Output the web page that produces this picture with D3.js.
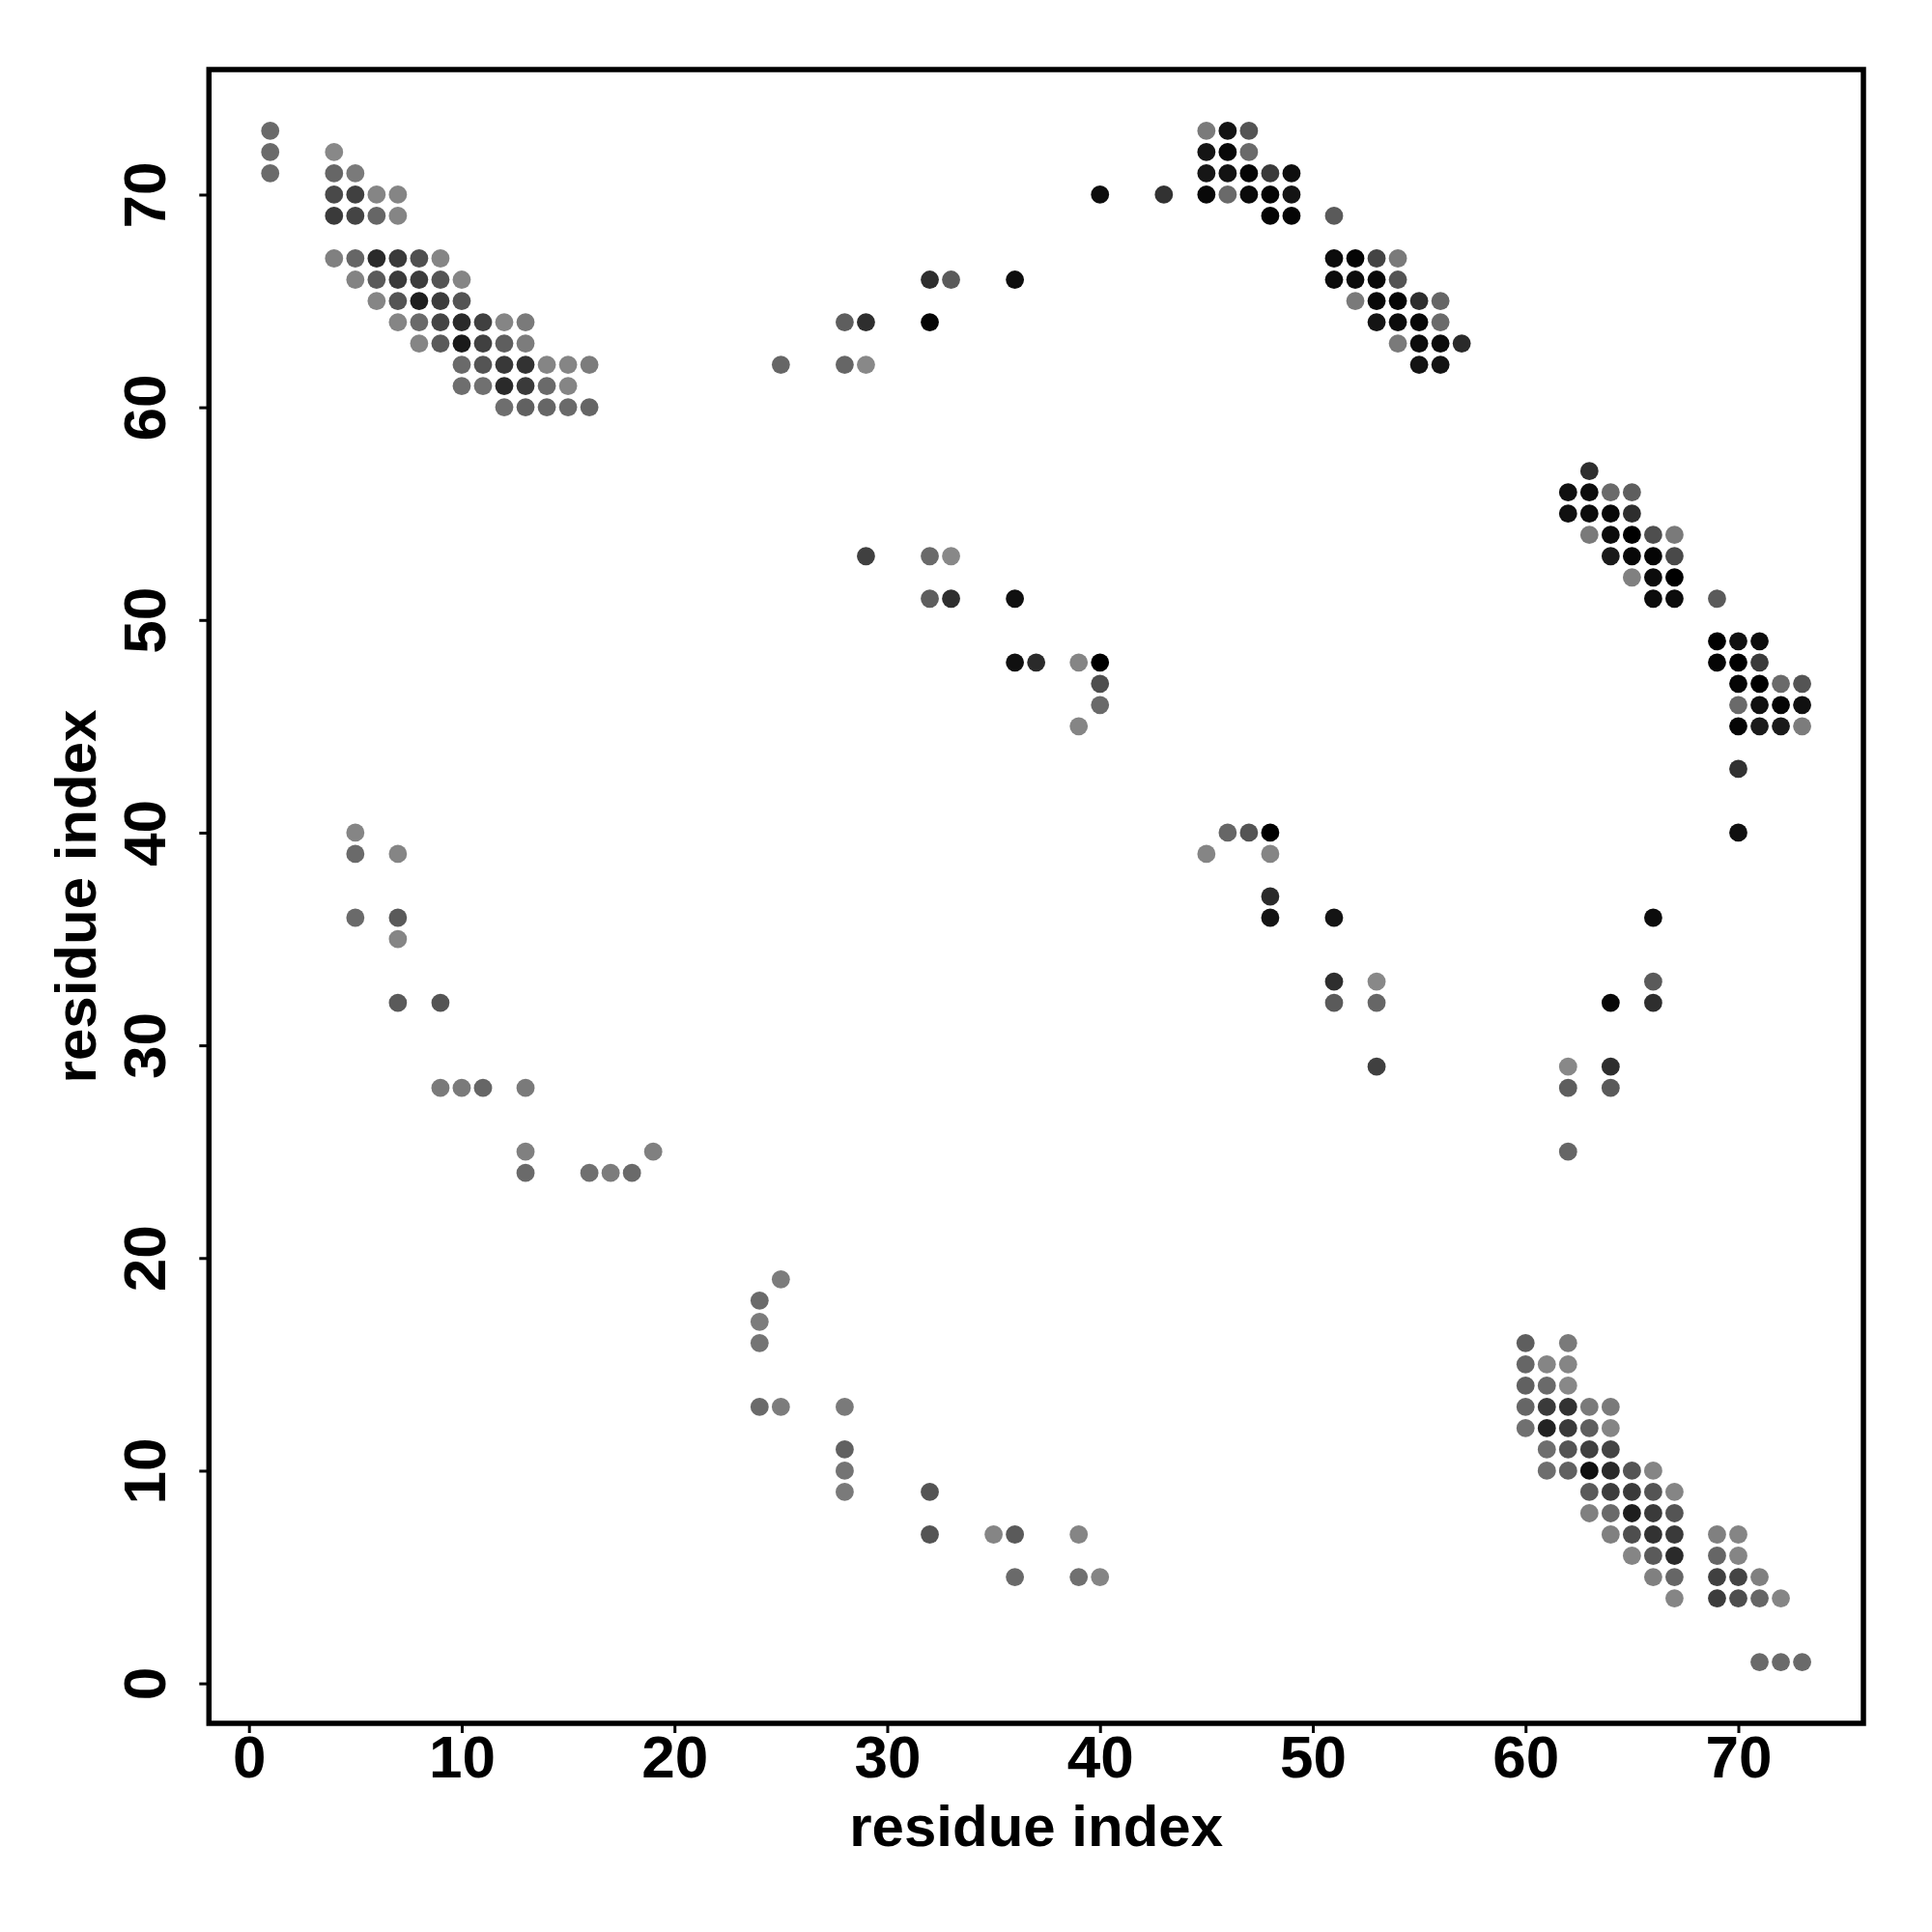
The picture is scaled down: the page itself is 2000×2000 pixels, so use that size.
<!DOCTYPE html>
<html lang="en">
<head>
    <meta charset="UTF-8">
    <title>contact map</title>
    <script src="https://d3js.org/d3.v7.min.js"></script>
</head>
<style>
    *{margin: 0;padding: 0}
    body{background: #ffffff}
    text{font-family: "Liberation Sans", Arial, Helvetica, sans-serif;font-weight: bold;fill: #000}
</style>
<body>
<div id="chart" style="width: 2000px;height: 2000px;"></div>

<script>
    // [residue i, residue j, contact score] -- score is drawn as grey (0 light .. 1 black)
    var blockTopLeft = [
        [1,73,0.22],[1,72,0.22],[1,71,0.22],
        [4,72,0.00],
        [4,71,0.25],[5,71,0.10],
        [4,70,0.46],[5,70,0.53],[6,70,0.02],[7,70,0.02],
        [4,69,0.57],[5,69,0.50],[6,69,0.25],[7,69,0.02],
        [4,67,0.06],[5,67,0.25],[6,67,0.69],[7,67,0.57],[8,67,0.41],[9,67,0.02],
        [5,66,0.04],[6,66,0.34],[7,66,0.57],[8,66,0.56],[9,66,0.38],[10,66,0.02],
        [6,65,0.02],[7,65,0.38],[8,65,0.78],[9,65,0.56],[10,65,0.38],
        [7,64,0.02],[8,64,0.22],[9,64,0.50],[10,64,0.69],[11,64,0.53],[12,64,0.02],[13,64,0.10],
        [8,63,0.02],[9,63,0.34],[10,63,0.81],[11,63,0.53],[12,63,0.31],[13,63,0.09],
        [10,62,0.22],[11,62,0.38],[12,62,0.59],[13,62,0.63],[14,62,0.02],[15,62,0.02],[16,62,0.09],
        [10,61,0.19],[11,61,0.18],[12,61,0.69],[13,61,0.57],[14,61,0.22],[15,61,0.02],
        [12,60,0.19],[13,60,0.29],[14,60,0.25],[15,60,0.22],[16,60,0.25]
    ];

    var blockMiddleTop = [
        [40,70,0.90],[43,70,0.63],
        [32,66,0.66],[33,66,0.34],[36,66,0.90],
        [28,64,0.31],[29,64,0.66],[32,64,0.96],
        [25,62,0.25],[28,62,0.25],[29,62,0.00],
        [29,53,0.53],[32,53,0.22],[33,53,0.00],
        [32,51,0.31],[33,51,0.66],[36,51,0.88],
        [36,48,0.88],[37,48,0.69],[39,48,0.02],[40,48,1.00],
        [40,47,0.43],[40,46,0.22],[39,45,0.02]
    ];

    var blockTopRight = [
        [45,73,0.10],[46,73,0.85],[47,73,0.38],
        [45,72,0.85],[46,72,0.94],[47,72,0.22],
        [45,71,0.84],[46,71,0.87],[47,71,0.96],[48,71,0.57],[49,71,0.90],
        [45,70,0.94],[46,70,0.22],[47,70,0.93],[48,70,0.96],[49,70,0.85],
        [48,69,0.96],[49,69,0.96],[51,69,0.34],
        [51,67,0.91],[52,67,0.96],[53,67,0.50],[54,67,0.10],
        [51,66,0.91],[52,66,0.91],[53,66,0.94],[54,66,0.38],
        [52,65,0.10],[53,65,0.94],[54,65,0.96],[55,65,0.66],[56,65,0.25],
        [53,64,0.85],[54,64,0.91],[55,64,0.94],[56,64,0.22],
        [54,63,0.10],[55,63,0.91],[56,63,0.91],[57,63,0.69],
        [55,62,0.85],[56,62,0.85]
    ];

    var blockRight = [
        [63,57,0.66],
        [62,56,0.88],[63,56,0.91],[64,56,0.22],[65,56,0.31],
        [62,55,0.88],[63,55,0.91],[64,55,0.94],[65,55,0.66],
        [63,54,0.10],[64,54,0.91],[65,54,1.00],[66,54,0.43],[67,54,0.10],
        [64,53,0.81],[65,53,0.94],[66,53,0.96],[67,53,0.46],
        [65,52,0.06],[66,52,0.91],[67,52,1.00],
        [66,51,0.91],[67,51,0.91],[69,51,0.34],
        [69,49,1.00],[70,49,0.88],[71,49,0.91],
        [69,48,0.96],[70,48,1.00],[71,48,0.57],
        [70,47,0.96],[71,47,1.00],[72,47,0.22],[73,47,0.38],
        [70,46,0.22],[71,46,0.88],[72,46,0.96],[73,46,0.88],
        [70,45,0.96],[71,45,0.81],[72,45,0.81],[73,45,0.09],
        [70,43,0.63],
        [70,40,0.88]
    ];

    var blockBottomRight = [
        [60,16,0.31],[62,16,0.10],
        [60,15,0.25],[61,15,0.02],[62,15,0.02],
        [60,14,0.29],[61,14,0.22],[62,14,0.00],
        [60,13,0.25],[61,13,0.57],[62,13,0.63],[63,13,0.10],[64,13,0.10],
        [60,12,0.18],[61,12,0.75],[62,12,0.57],[63,12,0.31],[64,12,0.02],
        [61,11,0.19],[62,11,0.38],[63,11,0.53],[64,11,0.50],
        [61,10,0.19],[62,10,0.29],[63,10,0.88],[64,10,0.69],[65,10,0.38],[66,10,0.02],
        [63,9,0.34],[64,9,0.56],[65,9,0.57],[66,9,0.38],[67,9,0.02],
        [63,8,0.06],[64,8,0.22],[65,8,0.78],[66,8,0.57],[67,8,0.38],
        [64,7,0.06],[65,7,0.43],[66,7,0.63],[67,7,0.57],[69,7,0.06],[70,7,0.02],
        [65,6,0.02],[66,6,0.34],[67,6,0.69],[69,6,0.25],[70,6,0.02],
        [66,5,0.06],[67,5,0.25],[69,5,0.53],[70,5,0.50],[71,5,0.06],
        [67,4,0.02],[69,4,0.56],[70,4,0.43],[71,4,0.25],[72,4,0.02],
        [71,1,0.22],[72,1,0.22],[73,1,0.22]
    ];

    var blockLeft = [
        [5,40,0.02],
        [5,39,0.22],[7,39,0.02],
        [5,36,0.22],[7,36,0.34],
        [7,35,0.02],
        [7,32,0.34],[9,32,0.38],
        [9,28,0.10],[10,28,0.10],[11,28,0.25],[13,28,0.10],
        [13,25,0.06],[19,25,0.06],
        [13,24,0.22],[16,24,0.18],[17,24,0.09],[18,24,0.22]
    ];

    var blockCentre = [
        [46,40,0.25],[47,40,0.38],[48,40,1.00],
        [45,39,0.02],[48,39,0.02],
        [48,37,0.69],
        [48,36,0.85],[51,36,0.85],[66,36,0.91],
        [51,33,0.66],[53,33,0.00],[66,33,0.34],
        [51,32,0.34],[53,32,0.25],[64,32,0.94],[66,32,0.66],
        [53,29,0.53],[62,29,0.00],[64,29,0.66],
        [62,28,0.31],[64,28,0.34],
        [62,25,0.25]
    ];

    var blockBottom = [
        [25,19,0.09],
        [24,18,0.22],
        [24,17,0.09],
        [24,16,0.15],
        [24,13,0.22],[25,13,0.09],[28,13,0.10],
        [28,11,0.29],
        [28,10,0.15],
        [28,9,0.10],
        [32,9,0.38],
        [32,7,0.38],[35,7,0.02],[36,7,0.34],[39,7,0.02],
        [36,5,0.22],[39,5,0.18],[40,5,0.02]
    ];

    var tickValues = [0,10,20,30,40,50,60,70];
    var axisTitle = 'residue index';

    var contacts = [].concat(blockTopLeft, blockMiddleTop, blockTopRight, blockRight,
        blockBottomRight, blockLeft, blockCentre, blockBottom);

    function drawContactMap(targetId, data) {
        var width = 2000, height = 2000;
        var box = {left: 216.3, right: 1929, top: 72, bottom: 1784};

        var svg = d3.select('#' + targetId)
            .append('svg')
            .attr('width', width)
            .attr('height', height);

        svg.append('rect').attr('width', width).attr('height', height).attr('fill', '#fff');

        // R style axis range: data extent padded by 4% each side
        var ex = d3.extent(data, function (d) { return d[0]; }),
            ey = d3.extent(data, function (d) { return d[1]; });
        var px = (ex[1] - ex[0]) * 0.04, py = (ey[1] - ey[0]) * 0.04;

        var x = d3.scaleLinear().domain([ex[0] - px, ex[1] + px]).range([box.left, box.right]);
        var y = d3.scaleLinear().domain([ey[0] - py, ey[1] + py]).range([box.bottom, box.top]);
        var grey = d3.scaleLinear().domain([0, 1]).range(['#888888', '#000000']);

        /* points */
        svg.append('g').attr('class', 'points')
            .selectAll('circle')
            .data(data)
            .enter()
            .append('circle')
            .attr('cx', function (d) { return x(d[0]); })
            .attr('cy', function (d) { return y(d[1]); })
            .attr('r', 9.4)
            .attr('fill', function (d) { return grey(d[2]); });

        /* x axis */
        var gx = svg.append('g')
            .attr('transform', 'translate(0,' + box.bottom + ')')
            .call(d3.axisBottom(x).tickValues(tickValues).tickSize(10).tickSizeOuter(0));
        gx.select('.domain').remove();
        gx.selectAll('.tick line').attr('stroke', '#000').attr('stroke-width', 3);
        gx.selectAll('.tick text')
            .attr('y', 56).attr('dy', null)
            .attr('font-size', 62)
            .attr('font-family', null);

        /* y axis, labels turned like R las=0 */
        var gy = svg.append('g')
            .attr('transform', 'translate(' + box.left + ',0)')
            .call(d3.axisLeft(y).tickValues(tickValues).tickSize(10).tickSizeOuter(0));
        gy.select('.domain').remove();
        gy.selectAll('.tick line').attr('stroke', '#000').attr('stroke-width', 3);
        gy.selectAll('.tick text')
            .attr('x', null).attr('dy', null)
            .attr('text-anchor', 'middle')
            .attr('transform', 'translate(-45.6,0) rotate(-90)')
            .attr('font-size', 62)
            .attr('font-family', null);

        /* box */
        svg.append('rect')
            .attr('x', box.left).attr('y', box.top)
            .attr('width', box.right - box.left)
            .attr('height', box.bottom - box.top)
            .attr('fill', 'none')
            .attr('stroke', '#000')
            .attr('stroke-width', 5.5);

        /* titles */
        svg.append('text')
            .attr('x', (box.left + box.right) / 2)
            .attr('y', 1911)
            .attr('text-anchor', 'middle')
            .attr('font-size', 60)
            .text(axisTitle);

        svg.append('text')
            .attr('transform', 'translate(99,' + (box.top + box.bottom) / 2 + ') rotate(-90)')
            .attr('text-anchor', 'middle')
            .attr('font-size', 60)
            .text(axisTitle);
    }

    drawContactMap('chart', contacts);
</script>
</body>
</html>
